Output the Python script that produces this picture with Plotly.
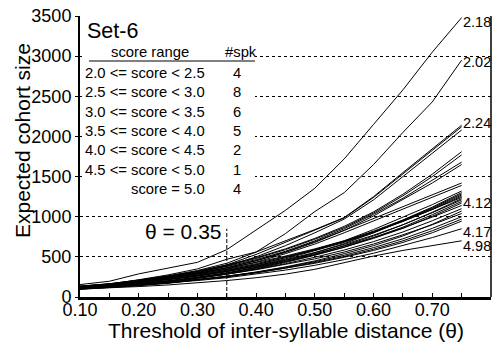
import plotly.graph_objects as go

# ---------------- data ----------------
theta = [0.10, 0.15, 0.20, 0.25, 0.30, 0.35, 0.40, 0.45, 0.50, 0.55, 0.60, 0.65, 0.70, 0.75]

s01 = [155, 196, 288, 360, 432, 590, 830, 1080, 1355, 1720, 2150, 2580, 3050, 3480]
s02 = [125, 160, 215, 275, 350, 470, 560, 790, 1065, 1300, 1650, 2050, 2430, 2950]
s03 = [135, 165, 210, 265, 330, 420, 560, 700, 840, 990, 1250, 1550, 1840, 2140]
s04 = [130, 160, 205, 255, 320, 400, 530, 680, 830, 985, 1240, 1530, 1820, 2120]
s05 = [125, 155, 195, 245, 305, 385, 500, 640, 800, 970, 1210, 1500, 1780, 2080]
s06 = [135, 165, 210, 260, 320, 400, 490, 600, 730, 880, 1060, 1280, 1530, 1810]
s07 = [130, 160, 205, 255, 315, 390, 480, 590, 720, 865, 1045, 1260, 1500, 1770]
s08 = [130, 160, 200, 250, 305, 380, 465, 570, 700, 850, 1030, 1230, 1450, 1680]
s09 = [125, 155, 195, 240, 295, 365, 450, 555, 680, 830, 1010, 1210, 1420, 1650]
s10 = [125, 155, 190, 240, 295, 365, 455, 560, 690, 830, 980, 1130, 1280, 1420]
s11 = [120, 150, 185, 230, 285, 350, 435, 540, 660, 800, 950, 1100, 1250, 1390]
s12 = [120, 145, 180, 220, 270, 330, 400, 490, 590, 700, 840, 990, 1150, 1320]
s13 = [135, 160, 200, 245, 295, 360, 430, 510, 600, 700, 820, 960, 1120, 1300]
s14 = [110, 130, 165, 200, 245, 300, 370, 455, 550, 665, 800, 950, 1110, 1285]
s15 = [125, 150, 185, 225, 275, 335, 405, 490, 585, 690, 810, 950, 1100, 1270]
s16 = [115, 140, 175, 215, 260, 320, 390, 475, 575, 680, 800, 940, 1090, 1255]
s17 = [130, 155, 195, 235, 285, 345, 415, 500, 590, 690, 810, 940, 1085, 1240]
s18 = [105, 125, 160, 195, 240, 295, 360, 440, 530, 640, 760, 900, 1055, 1225]
s19 = [120, 145, 180, 220, 265, 320, 385, 465, 555, 655, 770, 900, 1050, 1210]
s20 = [100, 120, 150, 185, 230, 285, 350, 430, 520, 620, 740, 870, 1025, 1190]
s21 = [115, 135, 165, 200, 245, 300, 365, 440, 525, 620, 730, 855, 1005, 1170]
s22 = [125, 145, 180, 215, 260, 315, 380, 455, 540, 635, 740, 860, 995, 1140]
s23 = [110, 130, 160, 195, 235, 285, 345, 415, 495, 585, 690, 810, 950, 1100]
s24 = [95, 115, 140, 170, 210, 255, 310, 375, 450, 540, 640, 760, 905, 1070]
s25 = [120, 140, 170, 200, 240, 285, 340, 405, 475, 560, 660, 775, 900, 1040]
s26 = [105, 125, 150, 180, 215, 260, 310, 370, 440, 520, 615, 725, 855, 1000]
s27 = [100, 120, 145, 175, 210, 250, 300, 360, 430, 505, 595, 700, 825, 970]
s28 = [115, 130, 155, 185, 220, 260, 305, 360, 420, 495, 580, 680, 800, 945]
s29 = [110, 125, 150, 175, 205, 240, 285, 335, 395, 465, 545, 640, 740, 850]
s30 = [100, 112, 130, 150, 175, 205, 240, 285, 345, 430, 510, 580, 640, 700]

series = [s01, s02, s03, s04, s05, s06, s07, s08, s09, s10,
          s11, s12, s13, s14, s15, s16, s17, s18, s19, s20,
          s21, s22, s23, s24, s25, s26, s27, s28, s29, s30]

# labels of the speakers' scores, at the end of selected curves
label_series = [0, 1, 2, 18, 28, 29]
label_texts = ["2.18", "2.02", "2.24", "4.12", "4.17", "4.98"]

set_name = "Set-6"
score_ranges = ["2.0 <= score < 2.5", "2.5 <= score < 3.0", "3.0 <= score < 3.5",
                "3.5 <= score < 4.0", "4.0 <= score < 4.5", "4.5 <= score < 5.0",
                "score = 5.0"]
spk_counts = [4, 8, 6, 5, 2, 1, 4]

theta_sel = 0.35
theta_sel_top = 850

x_tick_vals = [0.10, 0.15, 0.20, 0.25, 0.30, 0.35, 0.40, 0.45, 0.50, 0.55, 0.60, 0.65, 0.70, 0.75]
x_tick_text = ["0.10", "", "0.20", "", "0.30", "", "0.40", "", "0.50", "", "0.60", "", "0.70", ""]
y_tick_vals = [0, 500, 1000, 1500, 2000, 2500, 3000, 3500]

# ---------------- layout helpers ----------------
W, H = 497, 344
ML, MR, MT, MB = 80, 6, 16, 47
PW = W - ML - MR
PH = H - MT - MB
FONT = "Liberation Sans, Arial, Helvetica, sans-serif"


def fx(px):
    return (px - ML) / PW


def fy(py):
    return (MT + PH - py) / PH


fig = go.Figure()
for s in series:
    fig.add_trace(go.Scatter(x=theta, y=s, mode="lines",
                             line=dict(color="black", width=1),
                             showlegend=False, hoverinfo="skip"))

annotations = []
label_shift = [-4, -2, 2, -3.5, -3, -5]
for idx, txt, sh in zip(label_series, label_texts, label_shift):
    annotations.append(dict(x=theta[-1], y=series[idx][-1], xref="x", yref="y",
                            text=txt, showarrow=False, xanchor="left", yanchor="middle",
                            xshift=-1, yshift=sh,
                            font=dict(family=FONT, size=14.5, color="black")))

# Set name and table
annotations.append(dict(x=fx(85), y=fy(31), xref="paper", yref="paper", text=set_name,
                        showarrow=False, xanchor="left", yanchor="middle",
                        font=dict(family=FONT, size=21.5, color="black")))
annotations.append(dict(x=fx(150), y=fy(52), xref="paper", yref="paper", text="score range",
                        showarrow=False, xanchor="center", yanchor="middle",
                        font=dict(family=FONT, size=14.8, color="black")))
annotations.append(dict(x=fx(241), y=fy(52), xref="paper", yref="paper", text="#spk",
                        showarrow=False, xanchor="center", yanchor="middle",
                        font=dict(family=FONT, size=14.8, color="black")))
for i, (rng, cnt) in enumerate(zip(score_ranges, spk_counts)):
    py = 73 + i * 19.3
    annotations.append(dict(x=fx(207), y=fy(py), xref="paper", yref="paper", text=rng,
                            showarrow=False, xanchor="right", yanchor="middle",
                            font=dict(family=FONT, size=14.8, color="black")))
    annotations.append(dict(x=fx(237), y=fy(py), xref="paper", yref="paper", text=str(cnt),
                            showarrow=False, xanchor="center", yanchor="middle",
                            font=dict(family=FONT, size=14.8, color="black")))

# theta annotation
annotations.append(dict(x=theta_sel, y=fy(231), xref="x", yref="paper",
                        text="\u03b8 = " + f"{theta_sel:.2f}",
                        showarrow=False, xanchor="right", yanchor="middle", xshift=-4,
                        font=dict(family=FONT, size=21, color="black")))

# axis titles
annotations.append(dict(x=fx(ML + PW / 2), y=fy(330), xref="paper", yref="paper",
                        text="Threshold of inter-syllable distance (\u03b8)",
                        showarrow=False, xanchor="center", yanchor="middle",
                        font=dict(family=FONT, size=21, color="black")))
annotations.append(dict(x=fx(22), y=fy(141), xref="paper", yref="paper",
                        text="Expected cohort size", textangle=-90,
                        showarrow=False, xanchor="center", yanchor="middle",
                        font=dict(family=FONT, size=21, color="black")))

shapes = [
    # white box behind the table hides the grid
    dict(type="rect", xref="paper", yref="paper", x0=fx(82), x1=fx(255),
         y0=fy(199), y1=fy(18), fillcolor="white", line=dict(width=0), layer="above"),
    # table header underline
    dict(type="line", xref="paper", yref="paper", x0=fx(89), x1=fx(255),
         y0=fy(61), y1=fy(61), line=dict(color="black", width=1), layer="above"),
    # right border
    dict(type="line", xref="paper", yref="paper", x0=1, x1=1, y0=0, y1=1,
         line=dict(color="black", width=1.5)),
    # selected threshold
    dict(type="line", xref="x", yref="y", x0=theta_sel, x1=theta_sel, y0=0, y1=theta_sel_top,
         line=dict(color="black", width=1, dash="4px,2px")),
]

fig.update_layout(
    width=W, height=H,
    margin=dict(l=ML, r=MR, t=MT, b=MB, pad=0),
    paper_bgcolor="white", plot_bgcolor="white",
    font=dict(family=FONT, color="black"),
    annotations=annotations, shapes=shapes,
    xaxis=dict(range=[0.10, 0.80], tickmode="array", tickvals=x_tick_vals, ticktext=x_tick_text,
               ticks="inside", ticklen=4, tickcolor="black", tickwidth=1,
               ticklabelstandoff=-6,
               showline=True, linecolor="black", linewidth=3, showgrid=False, zeroline=False,
               tickfont=dict(family=FONT, size=18, color="black")),
    yaxis=dict(range=[0, 3500], tickmode="array", tickvals=y_tick_vals,
               ticks="outside", ticklen=3, tickcolor="black", tickwidth=1,
               showline=True, linecolor="black", linewidth=2,
               showgrid=True, gridcolor="black", gridwidth=1, griddash="dot", zeroline=False,
               tickfont=dict(family=FONT, size=18, color="black")),
)

fig.write_html("out.html", config={"displayModeBar": False},
               post_script="document.body.style.margin='0';document.body.style.overflow='hidden';")
